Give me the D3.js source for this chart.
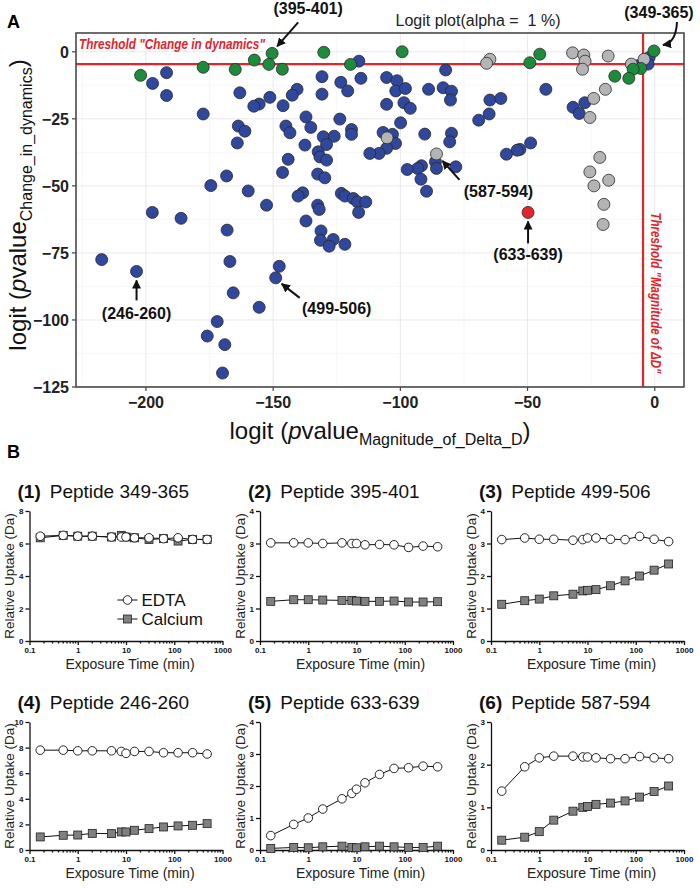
<!DOCTYPE html>
<html>
<head>
<meta charset="utf-8">
<title>Logit plot and uptake curves</title>
<script src="https://d3js.org/d3.v7.min.js"></script>
<style>
  body { margin: 0; background: #fff; }
  svg { font-family: Arial, "Liberation Sans", sans-serif; }
  .grid-major { stroke: #e6e6e6; stroke-width: 0.9; }
  .grid-minor { stroke: #f2f2f2; stroke-width: 0.6; }
  .thresh { stroke: #e3242b; stroke-width: 2.2; }
  .dot { stroke: #2a2a2a; stroke-width: 0.8; }
  .ann { font-size: 16px; font-weight: bold; fill: #111; }
  .arrow { stroke: #111; stroke-width: 2; fill: none; }
  .bax path, .bax line { stroke: #111; stroke-width: 1.3; }
  .bax text { font-family: Arial, "Liberation Sans", sans-serif; font-size: 8px; font-weight: bold; fill: #111; }
  .uline { stroke: #111; stroke-width: 1; fill: none; }
</style>
</head>
<body>
<svg width="700" height="888"></svg>
<script>
// ---------- panel A data: logit(pvalue) pairs [magnitude, change] ----------
const bluePts = [
  [-197.4,-11.8],[-191.9,-7.8],[-191.9,-16.3],[-177.5,-23.2],[-163.1,-15.3],[-163.7,-27.7],
  [-164.1,-34.0],[-168.3,-46.3],[-174.5,-49.9],[-197.5,-59.9],[-186.2,-62.1],[-168.1,-66.5],
  [-217.4,-77.5],[-203.7,-81.9],[-167.0,-78.2],[-165.7,-89.9],[-172.0,-100.6],[-175.9,-106.0],
  [-169.0,-109.2],[-169.9,-119.8],[-116.3,-3.5],[-82.2,-6.8],[-130.8,-9.3],[-123.4,-11.4],
  [-115.5,-9.9],[-105.4,-9.6],[-101.3,-10.8],[-120.7,-14.6],[-101.8,-14.6],[-98.0,-13.7],
  [-88.9,-14.0],[-83.2,-13.4],[-79.9,-14.7],[-80.3,-18.0],[-140.6,-14.0],[-142.5,-16.2],
  [-130.8,-15.8],[-151.3,-17.0],[-155.5,-19.5],[-157.6,-20.3],[-146.1,-20.1],[-105.4,-19.6],
  [-98.6,-19.0],[-96.1,-21.1],[-137.1,-24.3],[-123.8,-25.1],[-99.9,-26.5],[-161.1,-29.6],
  [-145.0,-27.7],[-143.4,-30.2],[-135.2,-28.2],[-119.2,-29.0],[-119.2,-30.8],[-130.3,-31.7],
  [-126.0,-31.5],[-129.0,-34.6],[-137.5,-34.8],[-106.8,-30.1],[-103.1,-30.8],[-101.9,-34.2],
  [-105.4,-36.0],[-108.4,-37.9],[-112.0,-37.9],[-90.4,-30.7],[-79.9,-30.4],[-80.6,-33.6],
  [-86.2,-41.0],[-85.8,-43.5],[-78.2,-42.9],[-91.7,-42.5],[-93.2,-43.5],[-97.3,-43.9],
  [-91.9,-47.5],[-89.7,-52.0],[-132.3,-37.3],[-131.6,-39.2],[-129.0,-40.4],[-144.1,-40.1],
  [-146.3,-45.0],[-132.5,-45.6],[-129.7,-47.0],[-159.8,-51.9],[-138.4,-52.6],[-140.2,-53.8],
  [-123.2,-52.8],[-121.8,-53.8],[-118.5,-54.7],[-116.8,-56.0],[-113.6,-56.0],[-116.4,-59.9],
  [-132.5,-57.2],[-131.9,-58.8],[-137.1,-63.1],[-131.2,-66.8],[-131.4,-70.3],[-126.4,-70.0],
  [-128.0,-72.5],[-121.8,-71.8],[-147.6,-80.0],[-149.0,-84.3],[-155.5,-95.3],[-152.6,-57.2],
  [-6.8,-5.2],[-2.2,-2.1],[-2.6,-4.6],[-42.8,-14.0],[-64.8,-18.0],[-60.5,-17.4],
  [-65.1,-23.2],[-69.2,-25.5],[-48.8,-34.0],[-53.0,-36.4],[-54.1,-36.7],[-58.3,-38.2],
  [-27.5,-19.0],[-32.1,-20.7],[-29.7,-23.0]
];
const greyPts = [
  [-64.8,-2.8],[-66.1,-4.3],[-32.3,-0.4],[-27.9,-1.2],[-27.4,-3.5],[-28.4,-6.5],[-18.3,-1.6],
  [-9.2,-4.6],[-4.2,-2.8],[-19.4,-14.0],[-24.0,-17.4],[-25.5,-24.5],[-105.2,-32.1],
  [-85.8,-38.1],[-21.6,-39.4],[-25.5,-44.8],[-18.1,-47.9],[-23.9,-50.0],[-20.0,-56.9],[-20.3,-64.4]
];
const greenPts = [
  [-202.1,-8.8],[-177.5,-5.8],[-164.9,-6.6],[-157.4,-3.1],[-150.4,-0.6],[-151.7,-4.7],
  [-146.4,-6.5],[-130.1,-0.2],[-119.6,-4.7],[-99.3,0.0],[-45.2,-0.9],[-49.1,-4.1],
  [-0.3,0.3],[-5.5,-6.2],[-8.5,-6.5],[-15.7,-9.1],[-10.2,-9.9]
];
const redPts = [[-49.8,-59.9]];
const alphaLogit = Math.log(0.01 / 0.99);   // threshold for alpha = 1 %

const xTicksA = [-200, -150, -100, -50, 0];
const yTicksA = [0, -25, -50, -75, -100, -125];

// labelled peptides: target point + pixel offsets for arrow and label
const callouts = [
  { label: "(395-401)", at: [-150.4, -0.6], tip: [5, -7], from: [26, -31], txt: [36, -39] },
  { label: "(349-365)", at: [-0.3, 0.3], tip: [9, -6], from: [23, -29], txt: [5, -33], curve: [22, -8] },
  { label: "(587-594)", at: [-85.8, -38.1], tip: [6, 7], from: [23, 26], txt: [62, 43] },
  { label: "(633-639)", at: [-49.8, -59.9], tip: [0, 9], from: [0, 31], txt: [0, 48] },
  { label: "(246-260)", at: [-203.7, -81.9], tip: [0, 9], from: [0, 29], txt: [0, 48] },
  { label: "(499-506)", at: [-149.0, -84.3], tip: [6, 6], from: [24, 20], txt: [61, 36] }
];

// ---------- panel B data: relative uptake (Da) ----------
const times = [0.167, 0.5, 1, 2, 5, 8, 10, 15, 30, 60, 120, 240, 480];
const peptides = ["349-365", "395-401", "499-506", "246-260", "633-639", "587-594"];
const yMaxes = [8, 4, 4, 10, 4, 3];
const yStepSizes = [2, 1, 1, 2, 1, 1];
const edta1 = [6.45, 6.5, 6.45, 6.45, 6.4, 6.4, 6.4, 6.35, 6.35, 6.3, 6.35, 6.25, 6.25];
const ca1   = [6.35, 6.5, 6.45, 6.45, 6.4, 6.5, 6.4, 6.35, 6.25, 6.3, 6.15, 6.25, 6.25];
const edta2 = [3.02, 3.02, 3.02, 3.0, 3.02, 3.0, 3.0, 2.96, 2.97, 2.96, 2.88, 2.92, 2.9];
const ca2   = [1.22, 1.27, 1.27, 1.26, 1.25, 1.25, 1.23, 1.22, 1.22, 1.23, 1.2, 1.2, 1.21];
const edta3 = [3.12, 3.17, 3.13, 3.13, 3.1, 3.12, 3.17, 3.17, 3.13, 3.12, 3.22, 3.13, 3.06];
const ca3   = [1.13, 1.24, 1.29, 1.39, 1.44, 1.54, 1.56, 1.58, 1.7, 1.85, 2.0, 2.18, 2.37];
const edta4 = [7.8, 7.8, 7.75, 7.75, 7.75, 7.7, 7.55, 7.7, 7.7, 7.6, 7.6, 7.6, 7.5];
const ca4   = [1.02, 1.15, 1.17, 1.3, 1.28, 1.41, 1.41, 1.54, 1.67, 1.8, 1.88, 1.93, 2.06];
const edta5 = [0.45, 0.8, 1.0, 1.28, 1.6, 1.77, 1.9, 2.1, 2.36, 2.55, 2.57, 2.62, 2.6];
const ca5   = [0.05, 0.08, 0.07, 0.1, 0.12, 0.08, 0.07, 0.1, 0.12, 0.1, 0.08, 0.08, 0.12];
const edta6 = [1.38, 1.95, 2.16, 2.2, 2.2, 2.18, 2.18, 2.16, 2.14, 2.14, 2.19, 2.16, 2.14];
const ca6   = [0.23, 0.3, 0.43, 0.7, 0.91, 1.0, 1.02, 1.07, 1.1, 1.15, 1.24, 1.37, 1.5];
// [panel index, series, time index, +/- error]
const errBars = [[1, "edta", 10, 0.1], [2, "edta", 1, 0.08], [2, "edta", 12, 0.08], [2, "ca", 9, 0.1]];

const svg = d3.select("svg");

// ================= Panel A =================
const A = { left: 76, right: 684, top: 33, bottom: 387 };
const x = d3.scaleLinear().domain([-227.5, 11.5]).range([A.left, A.right]);
const y = d3.scaleLinear().domain([-125, 7]).range([A.bottom, A.top]);

svg.append("text").attr("x", 7).attr("y", 28).attr("font-size", 18).attr("font-weight", "bold").text("A");

const gA = svg.append("g");
gA.append("rect").attr("x", A.left).attr("y", A.top)
  .attr("width", A.right - A.left).attr("height", A.bottom - A.top).attr("fill", "#fff");

// grid
const xMinor = xTicksA.map(d => d - 25).filter(d => d > x.domain()[0]);
const yMinor = yTicksA.map(d => d + 12.5).filter(d => d < y.domain()[1]);
gA.selectAll(".gxm").data(xMinor).join("line").attr("class", "grid-minor")
  .attr("x1", d => x(d)).attr("x2", d => x(d)).attr("y1", A.top).attr("y2", A.bottom);
gA.selectAll(".gym").data(yMinor).join("line").attr("class", "grid-minor")
  .attr("y1", d => y(d)).attr("y2", d => y(d)).attr("x1", A.left).attr("x2", A.right);
gA.selectAll(".gx").data(xTicksA).join("line").attr("class", "grid-major")
  .attr("x1", d => x(d)).attr("x2", d => x(d)).attr("y1", A.top).attr("y2", A.bottom);
gA.selectAll(".gy").data(yTicksA).join("line").attr("class", "grid-major")
  .attr("y1", d => y(d)).attr("y2", d => y(d)).attr("x1", A.left).attr("x2", A.right);

// threshold lines
gA.append("line").attr("class", "thresh")
  .attr("x1", A.left).attr("x2", A.right).attr("y1", y(alphaLogit)).attr("y2", y(alphaLogit));
gA.append("line").attr("class", "thresh")
  .attr("x1", x(alphaLogit)).attr("x2", x(alphaLogit)).attr("y1", A.top).attr("y2", A.bottom);

// points
const groups = [[bluePts, "#2f479c"], [greyPts, "#b4b4b4"], [greenPts, "#1c8c3a"], [redPts, "#e3242b"]];
groups.forEach(([pts, col]) => {
  gA.append("g").selectAll("circle").data(pts).join("circle").attr("class", "dot")
    .attr("cx", d => x(d[0])).attr("cy", d => y(d[1])).attr("r", 6).attr("fill", col);
});

// border
gA.append("rect").attr("x", A.left).attr("y", A.top)
  .attr("width", A.right - A.left).attr("height", A.bottom - A.top)
  .attr("fill", "none").attr("stroke", "#4a4a4a").attr("stroke-width", 1.6);

// ticks + labels
const minus = s => String(s).replace("-", "\u2212");
gA.selectAll(".tx").data(xTicksA).join("line")
  .attr("x1", d => x(d)).attr("x2", d => x(d)).attr("y1", A.bottom).attr("y2", A.bottom + 4)
  .attr("stroke", "#444").attr("stroke-width", 1.2);
gA.selectAll(".txl").data(xTicksA).join("text")
  .attr("x", d => x(d)).attr("y", 408).attr("text-anchor", "middle")
  .attr("font-size", 16).attr("font-weight", "bold").attr("fill", "#222").text(minus);
gA.selectAll(".ty").data(yTicksA).join("line")
  .attr("y1", d => y(d)).attr("y2", d => y(d)).attr("x1", A.left - 4).attr("x2", A.left)
  .attr("stroke", "#444").attr("stroke-width", 1.2);
gA.selectAll(".tyl").data(yTicksA).join("text")
  .attr("x", A.left - 7).attr("y", d => y(d) + 6).attr("text-anchor", "end")
  .attr("font-size", 16).attr("font-weight", "bold").attr("fill", "#222").text(minus);

// axis titles
const xt = svg.append("text").attr("x", (A.left + A.right) / 2).attr("y", 439)
  .attr("text-anchor", "middle").attr("font-size", 24).attr("fill", "#111");
xt.append("tspan").text("logit (");
xt.append("tspan").attr("font-style", "italic").text("p");
xt.append("tspan").text("value");
xt.append("tspan").attr("font-size", 16).attr("dy", 6).text("Magnitude_of_Delta_D");
xt.append("tspan").attr("dy", -6).text(")");

const yt = svg.append("text").attr("transform", `translate(26,${(A.top + A.bottom) / 2 - 5}) rotate(-90)`)
  .attr("text-anchor", "middle").attr("font-size", 24).attr("fill", "#111");
yt.append("tspan").text("logit (");
yt.append("tspan").attr("font-style", "italic").text("p");
yt.append("tspan").text("value");
yt.append("tspan").attr("font-size", 16).attr("dy", 6).text("Change_in_dynamics");
yt.append("tspan").attr("dy", -6).text(")");

// title
svg.append("text").attr("x", 478).attr("y", 26).attr("text-anchor", "middle")
  .attr("font-size", 16).attr("fill", "#222").text("Logit plot(alpha =\u00a0 1 %)");

// threshold captions
svg.append("text").attr("x", 79).attr("y", 49).attr("font-size", 14)
  .attr("font-weight", "bold").attr("font-style", "italic").attr("fill", "#e3242b")
  .attr("textLength", 186).attr("lengthAdjust", "spacingAndGlyphs")
  .text("Threshold \"Change in dynamics\"");
svg.append("text").attr("transform", `translate(651,293) rotate(90)`).attr("text-anchor", "middle")
  .attr("font-size", 14).attr("font-weight", "bold").attr("font-style", "italic").attr("fill", "#e3242b")
  .attr("textLength", 161).attr("lengthAdjust", "spacingAndGlyphs")
  .text("Threshold \"Magnitude of \u0394D\"");

// callouts
svg.append("defs").append("marker").attr("id", "ah")
  .attr("viewBox", "0 0 10 10").attr("refX", 9).attr("refY", 5)
  .attr("markerWidth", 9).attr("markerHeight", 9).attr("markerUnits", "userSpaceOnUse")
  .attr("orient", "auto")
  .append("path").attr("d", "M0,0 L10,5 L0,10 z").attr("fill", "#111");

callouts.forEach(c => {
  const px = x(c.at[0]), py = y(c.at[1]);
  const fx = px + c.from[0], fy = py + c.from[1], tx = px + c.tip[0], ty = py + c.tip[1];
  const d = c.curve
    ? `M${fx},${fy} Q${px + c.curve[0]},${py + c.curve[1]} ${tx},${ty}`
    : `M${fx},${fy} L${tx},${ty}`;
  svg.append("path").attr("class", "arrow").attr("d", d).attr("marker-end", "url(#ah)");
  svg.append("text").attr("class", "ann").attr("text-anchor", "middle")
    .attr("x", px + c.txt[0]).attr("y", py + c.txt[1]).text(c.label);
});

// ================= Panel B =================
svg.append("text").attr("x", 7).attr("y", 458).attr("font-size", 18).attr("font-weight", "bold").text("B");

const edtaSets = [edta1, edta2, edta3, edta4, edta5, edta6];
const caSets = [ca1, ca2, ca3, ca4, ca5, ca6];
const colX = [29.5, 260, 491];
const rowTop = [511, 722], rowBot = [641, 850];
const pw = 193;
const xMajor = [0.1, 1, 10, 100, 1000];
const xMinorB = [];
[0.1, 1, 10, 100].forEach(dec => d3.range(2, 10).forEach(k => xMinorB.push(dec * k)));

peptides.forEach((pep, i) => {
  const c = i % 3, r = Math.floor(i / 3);
  const x0 = colX[c], top = rowTop[r], bot = rowBot[r];
  const sx = d3.scaleLog().domain([0.1, 1000]).range([x0, x0 + pw]);
  const sy = d3.scaleLinear().domain([0, yMaxes[i]]).range([bot, top]);
  const g = svg.append("g");

  // title
  const t = g.append("text").attr("x", x0 - 12).attr("y", top - 13).attr("font-size", 19).attr("fill", "#111");
  t.append("tspan").attr("font-weight", "bold").text(`(${i + 1})`);
  t.append("tspan").attr("dx", 9).text(`Peptide ${pep}`);

  // axes
  g.append("g").attr("class", "bax").attr("transform", `translate(${x0},0)`)
    .call(d3.axisLeft(sy).tickValues(d3.range(0, yMaxes[i] + 0.001, yStepSizes[i]))
      .tickSize(4).tickSizeOuter(0).tickPadding(2).tickFormat(d3.format("d")));
  const xa = g.append("g").attr("class", "bax").attr("transform", `translate(0,${bot})`)
    .call(d3.axisBottom(sx).tickValues(xMajor).tickSize(4).tickSizeOuter(0).tickPadding(2)
      .tickFormat(d => d < 1 ? "0.1" : d3.format("d")(d)));
  xa.selectAll(".minor").data(xMinorB).join("line").attr("class", "minor")
    .attr("x1", d => sx(d)).attr("x2", d => sx(d)).attr("y1", 0).attr("y2", 2.5);

  g.append("text").attr("transform", `translate(${x0 - 15.5},${(top + bot) / 2}) rotate(-90)`)
    .attr("text-anchor", "middle").attr("font-size", 13.5).attr("fill", "#222").text("Relative Uptake (Da)");
  g.append("text").attr("x", x0 + pw / 2 + 4).attr("y", bot + 28)
    .attr("text-anchor", "middle").attr("font-size", 14).attr("fill", "#222").text("Exposure Time (min)");

  const series = { edta: edtaSets[i], ca: caSets[i] };
  const line = d3.line().x((d, k) => sx(times[k])).y(d => sy(d));

  // error bars
  errBars.filter(e => e[0] === i).forEach(([, s, k, err]) => {
    const ex = sx(times[k]), y1 = sy(series[s][k] - err), y2 = sy(series[s][k] + err);
    g.append("path").attr("class", "uline").attr("stroke-width", 1.3)
      .attr("d", `M${ex},${y1}V${y2}M${ex - 3},${y1}H${ex + 3}M${ex - 3},${y2}H${ex + 3}`);
  });

  g.append("path").attr("class", "uline").attr("d", line(series.ca));
  g.append("g").selectAll("rect").data(series.ca).join("rect")
    .attr("x", (d, k) => sx(times[k]) - 4).attr("y", d => sy(d) - 4)
    .attr("width", 8).attr("height", 8).attr("fill", "#808080").attr("stroke", "#222").attr("stroke-width", 0.8);
  g.append("path").attr("class", "uline").attr("d", line(series.edta));
  g.append("g").selectAll("circle").data(series.edta).join("circle")
    .attr("cx", (d, k) => sx(times[k])).attr("cy", d => sy(d)).attr("r", 4.3)
    .attr("fill", "#fff").attr("stroke", "#111").attr("stroke-width", 0.9);

  // legend in first panel
  if (i === 0) {
    const lg = g.append("g").attr("transform", `translate(${x0 + 98},${top + 89})`);
    lg.append("line").attr("x1", -10).attr("x2", 10).attr("stroke", "#111");
    lg.append("circle").attr("r", 4.3).attr("fill", "#fff").attr("stroke", "#111").attr("stroke-width", 0.9);
    lg.append("text").attr("x", 14).attr("y", 6).attr("font-size", 17).attr("fill", "#111").text("EDTA");
    lg.append("line").attr("x1", -10).attr("x2", 10).attr("y1", 19).attr("y2", 19).attr("stroke", "#111");
    lg.append("rect").attr("x", -4).attr("y", 15).attr("width", 8).attr("height", 8)
      .attr("fill", "#808080").attr("stroke", "#222").attr("stroke-width", 0.8);
    lg.append("text").attr("x", 14).attr("y", 25).attr("font-size", 17).attr("fill", "#111").text("Calcium");
  }
});
</script>
</body>
</html>
